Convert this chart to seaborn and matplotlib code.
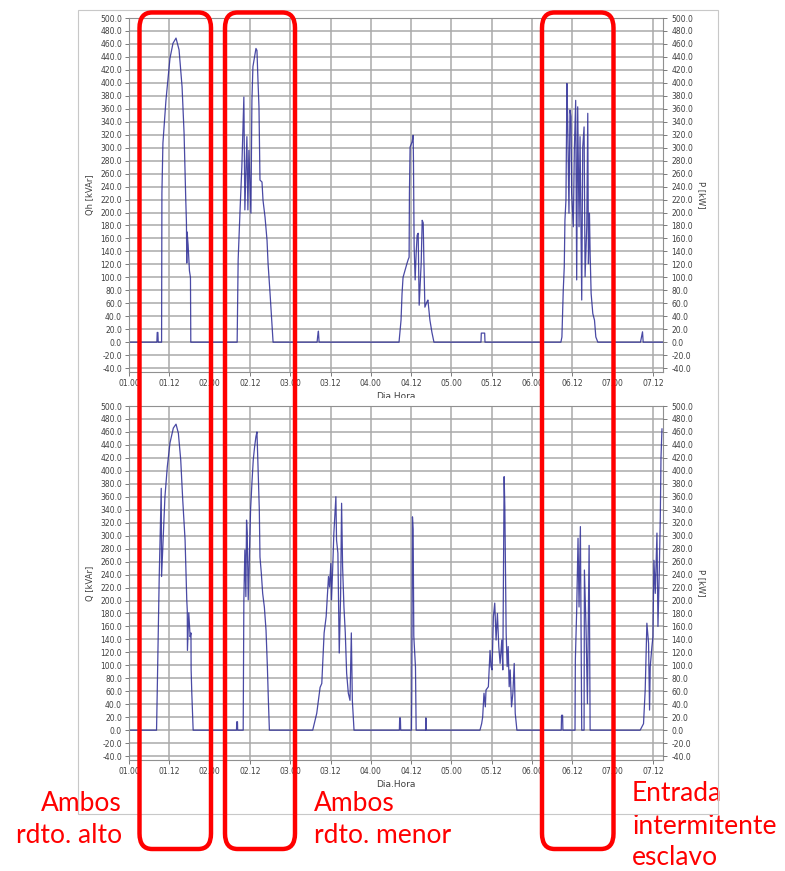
import numpy as np
import pandas as pd
import seaborn as sns
import matplotlib.pyplot as plt
from matplotlib.patches import FancyBboxPatch, Rectangle
from matplotlib.ticker import FormatStrFormatter
from matplotlib.transforms import Bbox, TransformedBbox

# --- data (hours since day 01, 00:00) ---
qh_hours = [0, 8.3, 8.4, 8.6, 8.7, 9.7, 9.8, 10.1, 11.0, 12.2, 13.1, 14.0, 14.9, 15.8, 16.4, 16.9,
            17.1, 17.2, 17.3, 17.6, 18.0, 18.3, 18.4,
            32.2, 32.5, 33.1, 33.6, 34.2, 34.5, 35.1, 35.4, 35.7, 36.3, 36.6, 36.9, 37.8, 38.1,
            38.4, 38.7, 39.0, 39.6, 39.9, 40.5, 41.1, 41.4, 42.0, 42.9,
            56.0, 56.2, 56.4, 56.6,
            80.4, 81.0, 81.3, 81.6, 82.2, 82.8, 83.1, 83.4, 83.5, 83.7, 84.3, 84.6, 84.7, 84.9,
            85.2, 85.5, 85.8, 86.1, 86.4, 87.0, 87.3, 87.6, 87.8, 88.1, 88.7, 89.0, 89.6, 90.2, 90.8,
            104.8, 104.9, 105.9, 106.0,
            128.6, 128.9, 129.3, 129.6, 129.8, 130.1, 130.4, 130.6, 131.0, 131.3, 131.6, 131.8,
            132.3, 132.6, 133.0, 133.3, 133.6, 134.0, 134.3, 134.8, 135.1, 135.5, 135.8, 136.3,
            136.6, 136.8, 137.1, 137.3, 137.6, 138.1, 138.6, 139.0, 139.6,
            152.3, 152.6, 152.9, 153.1, 159.0]
qh_values = [0, 0, 15, 15, 0, 0, 230, 307, 373, 438, 461, 469, 451, 394, 322, 220,
             185, 122, 170, 150, 110, 100, 0,
             0, 127, 208, 270, 378, 204, 317, 204, 296, 199, 373, 425, 453, 450,
             404, 363, 250, 247, 219, 193, 157, 122, 75, 0,
             0, 10, 17, 0,
             0, 34, 75, 100, 111, 122, 127, 131, 230, 301, 309, 319, 281, 147,
             96, 137, 165, 168, 57, 122, 188, 184, 127, 54, 62, 65, 34, 15, 0,
             0, 14, 14, 0,
             0, 8, 80, 116, 188, 219, 399, 348, 199, 358, 348, 230,
             178, 296, 373, 96, 363, 178, 317, 65, 301, 332, 101, 178,
             353, 121, 199, 137, 75, 44, 34, 8, 0,
             0, 8, 16, 0, 0]

q_hours = [0, 8.2, 8.4, 8.8, 9.0, 9.4, 9.6, 9.7, 9.9, 10.7, 11.4, 12.2, 13.2, 14.0, 14.7, 15.4,
           16.0, 16.7, 17.2, 17.35, 17.4, 17.8, 18.2, 18.45, 18.5, 18.7, 19.1,
           32.0, 32.1, 32.3, 32.35, 34.0, 34.2, 34.5, 34.8, 35.0, 35.2, 35.5, 35.8, 36.2, 36.6,
           37.0, 37.4, 37.8, 38.1, 38.4, 38.6, 38.8, 39.0, 39.4, 39.8, 40.3, 40.8, 41.2, 41.5, 41.8,
           54.7, 55.9, 56.9, 57.4, 58.1, 58.7, 59.4, 59.7, 60.1, 60.3, 60.6, 61.0, 61.6, 61.8,
           62.2, 62.6, 63.0, 63.3, 63.6, 64.0, 64.4, 64.8, 65.3, 65.8, 66.2, 66.5, 67.0,
           80.5, 80.6, 80.8, 80.9, 84.1, 84.2, 84.4, 84.6, 84.8, 85.3, 85.5, 88.3, 88.4, 88.5,
           104.5, 105.0, 105.3, 105.7, 106.1, 106.3, 107.0, 107.5, 107.8, 108.1, 108.5, 108.9,
           109.3, 109.7, 110.1, 110.5, 111.0, 111.3, 111.7, 111.9, 112.1, 112.3, 112.6, 112.9,
           113.2, 113.5, 113.9, 114.3, 114.7, 115.0, 115.5,
           128.7, 128.8, 129.1, 129.2, 132.8, 132.9, 133.3, 133.7, 134.0, 134.4, 134.6, 134.8,
           135.5, 135.6, 136.1, 136.5, 137.0, 137.3,
           152.2, 153.2, 153.7, 154.2, 154.7, 155.0, 155.2, 155.7, 156.0, 156.3, 156.7, 157.2,
           157.5, 157.9, 158.2, 158.4, 158.7]
q_values = [0, 0, 57, 181, 237, 324, 373, 237, 262, 360, 406, 443, 466, 472, 458, 417,
            355, 293, 201, 185, 123, 181, 144, 150, 93, 57, 0,
            0, 13, 13, 0, 0, 201, 278, 206, 324, 304, 201, 262, 340, 381,
            417, 437, 453, 460, 412, 375, 340, 267, 242, 211, 190, 154, 98, 46, 0,
            0, 26, 66, 72, 150, 175, 237, 221, 257, 201, 242, 304, 360, 293,
            273, 119, 206, 350, 252, 190, 150, 88, 57, 46, 150, 46, 0,
            0, 19, 19, 0, 0, 60, 329, 310, 145, 97, 0, 0, 19, 0,
            0, 10, 20, 57, 36, 62, 67, 123, 98, 93, 175, 196,
            139, 180, 129, 103, 139, 93, 391, 345, 252, 149, 98, 129,
            67, 93, 36, 57, 103, 26, 0,
            0, 23, 23, 0, 0, 108, 185, 296, 190, 314, 149, 0,
            0, 247, 154, 41, 285, 0,
            0, 10, 62, 165, 134, 31, 98, 129, 144, 262, 211, 304,
            160, 247, 329, 420, 465]

tick_hours = list(range(0, 157, 12))
tick_labels = ['01.00', '01.12', '02.00', '02.12', '03.00', '03.12', '04.00', '04.12',
               '05.00', '05.12', '06.00', '06.12', '07.00', '07.12']

boxes_px = [(139.5, 211), (225, 295), (542, 613.5)]

sns.set_style("white")

W, H = 785, 871
fig = plt.figure(figsize=(W / 100, H / 100), dpi=100)

def fx(px):
    return px / W

def fy(py):
    return 1 - py / H

line_col = '#2a2a95'
grid_col = '#aaaaaa'
txt_col = '#404040'

def setup_axes(ax, left_label, x_label):
    ax.set_xlim(0, 159)
    ax.set_ylim(-46, 500)
    yt = np.arange(-40, 501, 20)
    ax.set_yticks(yt)
    ax.yaxis.set_major_formatter(FormatStrFormatter('%.1f'))
    ax.set_xticks(tick_hours)
    ax.set_xticklabels(tick_labels)
    ax.grid(True, color=grid_col, lw=1.1)
    ax.set_axisbelow(True)
    ax.tick_params(axis='both', labelsize=5.5, length=3, width=0.6, color='#666666',
                   labelcolor=txt_col, pad=2, direction='out')
    ax.tick_params(axis='y', left=True)
    ax.tick_params(axis='x', bottom=True)
    for s in ax.spines.values():
        s.set_color('#909090')
        s.set_linewidth(0.8)
    ax.set_ylabel(left_label, fontsize=6, color=txt_col, labelpad=4)
    ax.set_xlabel(x_label, fontsize=6.5, color=txt_col, labelpad=3)
    ax2 = ax.twinx()
    ax2.set_ylim(-46, 500)
    ax2.set_yticks(yt)
    ax2.yaxis.set_major_formatter(FormatStrFormatter('%.1f'))
    ax2.tick_params(axis='y', labelsize=5.5, length=3, width=0.6, color='#666666',
                    labelcolor=txt_col, pad=3, right=True)
    for s in ax2.spines.values():
        s.set_visible(False)
    ax2.set_ylabel('P [kW]', fontsize=6, color=txt_col, rotation=270, labelpad=9)
    return ax2

ax_top = fig.add_axes([fx(129), fy(372), fx(663) - fx(129), fy(18) - fy(372)])
ax_bot = fig.add_axes([fx(129), fy(760), fx(663) - fx(129), fy(406) - fy(760)])

top_df = pd.DataFrame({'hora': qh_hours, 'Qh': qh_values})
bot_df = pd.DataFrame({'hora': q_hours, 'Q': q_values})

sns.lineplot(data=top_df, x='hora', y='Qh', ax=ax_top, estimator=None, sort=False,
             color=line_col, lw=0.9, alpha=0.85)
sns.lineplot(data=bot_df, x='hora', y='Q', ax=ax_bot, estimator=None, sort=False,
             color=line_col, lw=0.9, alpha=0.85)

setup_axes(ax_top, 'Qh [kVAr]', 'Dia.Hora')
setup_axes(ax_bot, 'Q [kVAr]', 'Dia.Hora')

# top x label is half hidden under the lower chart
lbl = ax_top.xaxis.label
lbl.set_clip_box(TransformedBbox(Bbox([[0, fy(398)], [1, 1]]), fig.transFigure))
lbl.set_clip_on(True)

# light frame of the screenshot
fig.patches.append(Rectangle((fx(78), fy(814)), fx(718) - fx(78), fy(10) - fy(814),
                             transform=fig.transFigure, fill=False, ec='#c8c8c8', lw=0.8,
                             zorder=5))

# red rounded boxes
for x0, x1 in boxes_px:
    fig.patches.append(FancyBboxPatch((fx(x0), fy(849)), fx(x1) - fx(x0), fy(12.5) - fy(849),
                                      boxstyle='round,pad=0,rounding_size=0.016',
                                      transform=fig.transFigure, fill=False, ec='#ff0000',
                                      lw=3.2, zorder=10, mutation_aspect=H / W))

red_font = dict(color='#ff0000', fontsize=19, family=['Lato', 'DejaVu Sans'], va='center')
fig.text(fx(122), fy(803), 'Ambos', ha='right', **red_font)
fig.text(fx(122), fy(835), 'rdto. alto', ha='right', **red_font)
fig.text(fx(314), fy(803), 'Ambos', ha='left', **red_font)
fig.text(fx(314), fy(835), 'rdto. menor', ha='left', **red_font)
fig.text(fx(632), fy(793), 'Entrada', ha='left', **red_font)
fig.text(fx(632), fy(826), 'intermitente', ha='left', **red_font)
fig.text(fx(632), fy(857), 'esclavo', ha='left', **red_font)

fig.savefig('out.png', dpi=100)
